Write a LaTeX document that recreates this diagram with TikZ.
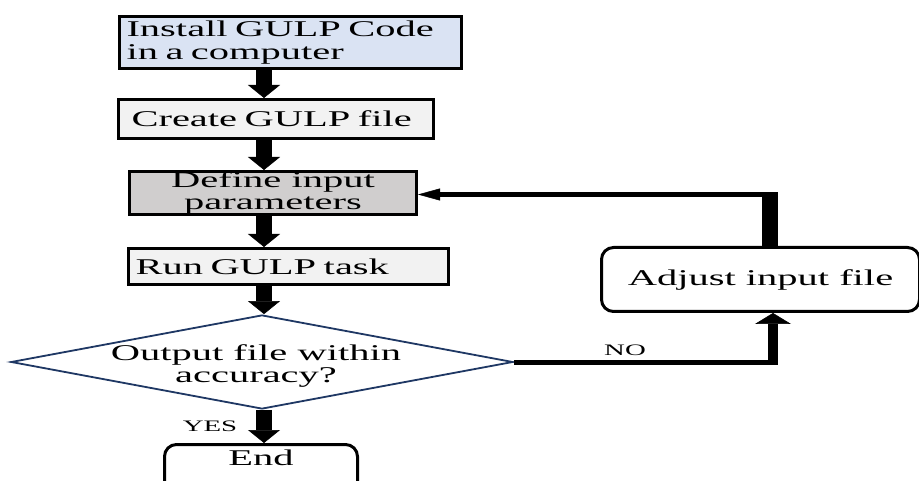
\documentclass[tikz,border=0pt]{standalone}
\usepackage{fontspec}
\setmainfont[FakeStretch=1.8]{Liberation Serif}
\usetikzlibrary{arrows.meta,shapes.geometric}
\definecolor{cblue}{HTML}{DAE3F3}
\definecolor{clight}{HTML}{F2F2F2}
\definecolor{cgray}{HTML}{D0CECE}
\definecolor{cnavy}{HTML}{1F3864}
\begin{document}
\begin{tikzpicture}[x=1pt,y=-1pt,
  box/.style={draw=black, line width=3pt, inner ysep=0pt, anchor=north west, font=\fontsize{22.5}{23}\selectfont},
  rbox/.style={box, rounded corners=12pt, fill=white},
  varrow/.style={line width=16pt, -{Triangle[width=32pt,length=13pt,line width=0.5pt]}},
  harrow/.style={line width=5pt, -{Triangle[width=12pt,length=22pt,line width=0.5pt]}},
  hline/.style={line width=5pt},
  vline/.style={line width=16pt},
  lbl/.style={font=\fontsize{16}{16}\selectfont, inner sep=0pt}]
\useasboundingbox (0,0) rectangle (919,481);
\clip (0,0) rectangle (919,481);
\fill[white] (0,0) rectangle (919,481);

\node[box, fill=cblue, minimum width=342pt, minimum height=52pt, text width=328pt, inner xsep=7pt, align=left] (b1) at (118,15) {Install GULP Code\\in a computer};
\node[box, fill=clight, minimum width=315pt, minimum height=39pt, text width=289pt, inner xsep=13pt, align=left] (b2) at (117,98) {Create GULP file};
\node[box, fill=cgray, minimum width=287pt, minimum height=42pt, align=center, font=\fontsize{22.5}{22.5}\selectfont] (b3) at (128,170) {Define input\\parameters};
\node[box, fill=clight, minimum width=320pt, minimum height=36pt, text width=306pt, inner xsep=7pt, align=left] (b4) at (127,247) {Run GULP task};
\node[draw=cnavy, line width=1.8pt, shape=diamond, minimum width=502pt, minimum height=94pt, inner sep=0pt] (dia) at (262,362) {};
\node[align=center, font=\fontsize{22.5}{22.5}\selectfont, inner sep=0pt] (diat) at (256,366) {Output file within\\accuracy?};
\node[rbox, anchor=north, minimum width=193pt, text height=15pt, text depth=50pt, inner ysep=6pt] (end) at (261,443) {End};
\node[rbox, minimum width=318pt, minimum height=64pt] (adj) at (600,246) {Adjust input file};

\node[lbl] (yes) at (210,426) {YES};
\node[lbl] (no) at (625,350) {NO};

\coordinate (ax) at (264,0);
\coordinate (lx) at (770,194.5);
\coordinate (nx) at (773,362);

\draw[varrow] (b1.south -| ax) -- (b2.north -| ax);
\draw[varrow] (b2.south -| ax) -- (b3.north -| ax);
\draw[varrow] (b3.south -| ax) -- (b4.north -| ax);
\draw[varrow] (b4.south -| ax) -- (dia.north -| ax);
\draw[varrow] (dia.south -| ax) -- (end.north -| ax);

\draw[hline, draw=black] (dia.east) -- ([xshift=5pt]nx |- dia.east);
\draw[line width=10pt, -{Triangle[width=36pt,length=11pt,line width=0.5pt]}] ([yshift=-2.5pt]nx |- dia.east) -- (adj.south -| nx);

\draw[vline] (adj.north -| lx) -- ([yshift=2.5pt]lx);
\draw[harrow] ([xshift=8pt]lx) -- (b3.east |- lx);
\end{tikzpicture}
\end{document}
